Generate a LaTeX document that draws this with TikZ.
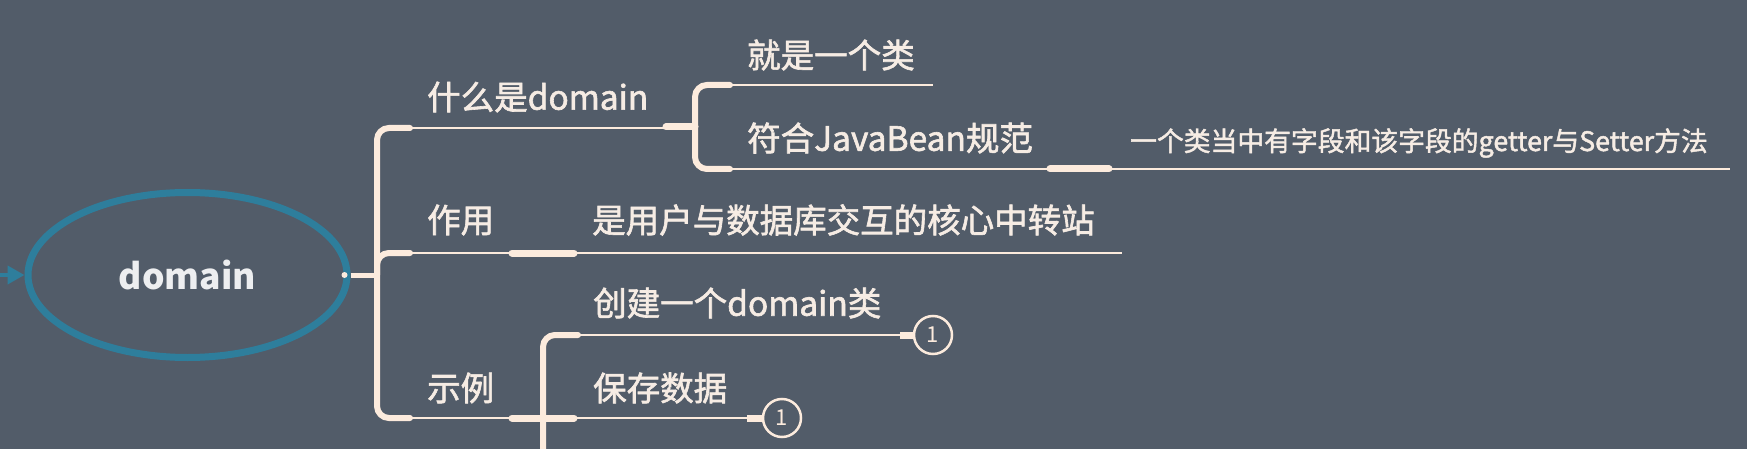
\documentclass[tikz,border=0pt]{standalone}
\usepackage{fontspec}
\setmainfont{Noto Sans CJK SC}
\newcommand\heavytext[2]{\special{pdf:literal direct 2 Tr #1 w}#2\special{pdf:literal direct 0 Tr}}
\usetikzlibrary{arrows.meta,shapes.geometric}
\definecolor{bg}{HTML}{525C69}
\definecolor{ln}{HTML}{FCEBDD}
\definecolor{tx}{HTML}{F6ECE4}
\definecolor{rt}{HTML}{EDEEF0}
\definecolor{teal}{HTML}{2E7E9C}
\begin{document}
\begin{tikzpicture}[x=1pt,y=-1pt,
 bus/.style={draw=ln,line width=6pt,line cap=round,rounded corners=12pt},
 thinln/.style={draw=ln,line width=2.5pt},
 knob/.style={draw=ln,line width=7pt,line cap=round},
 lbl/.style={text=tx,anchor=west,inner sep=0pt,font=\fontsize{33.5}{40}\selectfont},
 smalllbl/.style={text=tx,anchor=west,inner sep=0pt,font=\fontsize{26.8}{30}\selectfont},
 num/.style={circle,draw=ln,line width=2.5pt,fill=bg,minimum size=38pt,inner sep=0pt,text=ln,font=\fontsize{22}{24}\selectfont}]
\fill[bg] (0,0) rectangle (1747,449);
\useasboundingbox (0,0) rectangle (1747,449);
\clip (0,0) rectangle (1747,449);
% root
\node[ellipse,draw=teal,line width=7pt,minimum width=319pt,minimum height=165pt,inner sep=0pt,text=rt,font=\bfseries\fontsize{35.5}{44}\selectfont] (root) at (187.5,275) {domain};
\coordinate (in) at (0,275);
\draw[teal,line width=4pt,-{Triangle[length=17pt,width=18pt]}] (in) -- (root.west);
% bus
\coordinate (busc) at (377,275);
\draw[ln,line width=5pt] (root.east) -- (busc);
\fill[ln] ([xshift=-6pt]root.east) circle (3pt);
\draw[bus] (410,128) -- (377,128) -- (377,418) -- (410,418);
\draw[bus] (busc) -- (377,253) -- (410,253);
% labels
\node[lbl] (what) at (427,97) {\heavytext{0.6}{什么是domain}};
\node[lbl] (use) at (427,220) {\heavytext{0.6}{作用}};
\node[lbl] (ex) at (427,388) {\heavytext{0.6}{示例}};
\node[lbl] (cls) at (747,55) {\heavytext{0.6}{就是一个类}};
\node[lbl] (bean) at (747,138) {\heavytext{0.6}{符合JavaBean规范}};
\node[smalllbl] (get) at (1130,143) {\heavytext{0.45}{一个类当中有字段和该字段的getter与Setter方法}};
\node[lbl] (hub) at (592,220) {\heavytext{0.6}{是用户与数据库交互的核心中转站}};
\node[lbl] (mk) at (593,303) {\heavytext{0.6}{创建一个domain类}};
\node[lbl] (save) at (593,388) {\heavytext{0.6}{保存数据}};
% what branch
\draw[thinln] (400,128) -- (680,128);
\draw[knob] (666,127) -- (695,127);
\draw[bus] (730,85) -- (695,85) -- (695,169) -- (730,169);
\draw[thinln] (720,85) -- (933,85);
\draw[thinln] (720,169) -- (1730,169);
\draw[knob] (1050,169) -- (1109,169);
% use branch
\draw[thinln] (400,253) -- (1122,253);
\draw[knob] (512,253) -- (574,253);
% example branch
\node[num] (n1) at (933,335) {1};
\node[num] (n2) at (782,418) {1};
\draw[thinln] (400,418) -- (n2.west);
\draw[knob] (512,418) -- (574,418);
\draw[ln,line width=7pt] (747,418) -- (n2.west);
\draw[bus] (578,335) -- (543,335) -- (543,470);
\draw[thinln] (570,335) -- (n1.west);
\draw[ln,line width=7pt] (900,335) -- (n1.west);
\end{tikzpicture}
\end{document}
